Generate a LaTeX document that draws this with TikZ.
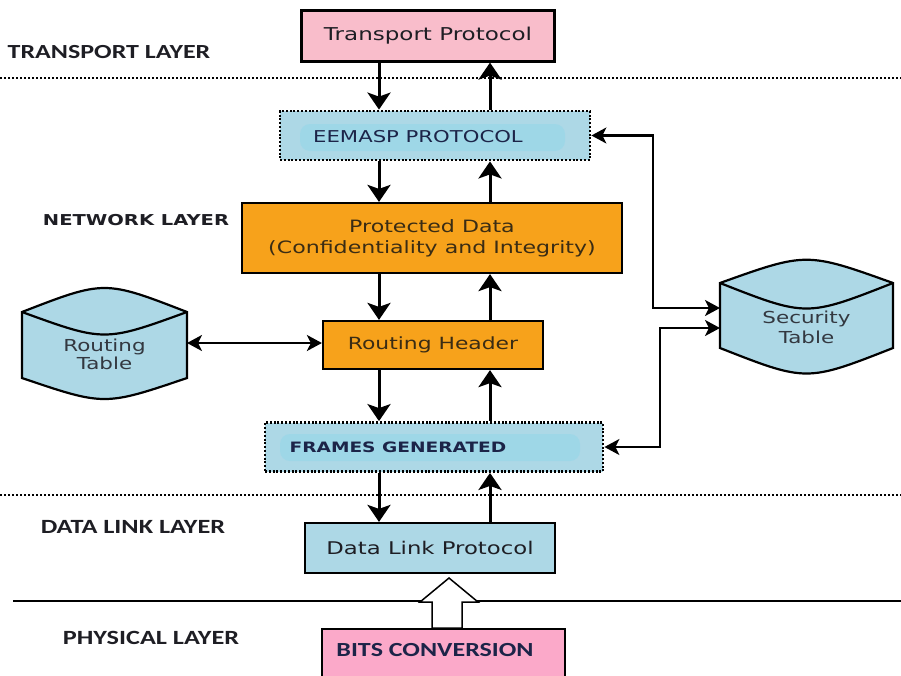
\documentclass[tikz,border=0pt]{standalone}
\usepackage{fontspec}
\setmainfont{DejaVu Sans}
\newfontfamily\vsans[FakeStretch=1.3]{DejaVu Sans}
\newfontfamily\csans[FakeStretch=1.3]{Carlito}
\usetikzlibrary{arrows.meta}

\definecolor{tpink}{HTML}{F9BDCB}
\definecolor{bpink}{HTML}{FBA9C9}
\definecolor{lblue}{HTML}{ADD8E6}
\definecolor{glow}{HTML}{8DD6EA}
\definecolor{orng}{HTML}{F7A21B}
\definecolor{ink}{HTML}{1E1E24}
\definecolor{navy}{HTML}{1C2448}
\definecolor{brown}{HTML}{3A2C14}
\definecolor{gray}{HTML}{333840}

\tikzset{
  solidbox/.style={draw=black, line width=2.2pt, inner sep=0pt},
  dotbox/.style={draw=black, line width=2.8pt, dash pattern=on 2pt off 1.8pt, inner sep=0pt, fill=lblue},
  sep/.style={line width=2.2pt, dash pattern=on 1.8pt off 2.2pt},
  txt/.style={inner sep=0pt, text=ink},
  flow/.style={line width=3pt, -{Stealth[length=17pt,width=23pt,inset=4pt]}},
  link/.style={line width=2.2pt, {Stealth[length=15pt,width=16pt,inset=4pt]}-{Stealth[length=15pt,width=16pt,inset=4pt]}},
  drum/.style={draw=black, line width=2.2pt, fill=lblue, line join=miter}
}

\begin{document}
\begin{tikzpicture}[x=1pt,y=-1pt]
\useasboundingbox (0,0) rectangle (901,675);
\clip (0,0) rectangle (901,675);

% column positions of the down and up flows
\coordinate (dx) at (379,0);
\coordinate (ux) at (490,0);

% layer separators
\draw[sep] (0,78) -- (901,78);
\draw[sep] (0,495) -- (901,495);
\draw[line width=1.5pt] (13,601) -- (901,601);

% layer names
\node[txt, font={\csans\bfseries\fontsize{20}{22}\selectfont}] (tl) at (109,52) {TRANSPORT LAYER};
\node[txt, font={\vsans\bfseries\fontsize{15}{17}\selectfont}] (nl) at (136,220) {NETWORK LAYER};
\node[txt, font={\csans\bfseries\fontsize{20.2}{22}\selectfont}] (dl) at (133,527) {DATA LINK LAYER};
\node[txt, font={\csans\bfseries\fontsize{20.2}{22}\selectfont}] (pl) at (151,638) {PHYSICAL LAYER};

% protocol stack
\node[solidbox, fill=tpink, minimum width=253pt, minimum height=51pt, text=ink,
      font={\vsans\fontsize{17.7}{19}\selectfont}] (tp) at (428,36) {Transport Protocol};

\node[dotbox, minimum width=310pt, minimum height=49pt] (ee) at (435,135.5) {};
\fill[glow, rounded corners=10pt, opacity=0.45] (300,124) rectangle (565,151);
\node[txt, text=navy, font={\vsans\fontsize{16.3}{18}\selectfont}] (eet) at (418,137) {EEMASP PROTOCOL};

\node[solidbox, fill=orng, minimum width=380pt, minimum height=70pt, align=center, text=brown,
      font={\vsans\fontsize{17}{21}\selectfont}] (pd) at (432,238)
  {Protected Data\\(Confidentiality and Integrity)};

\node[solidbox, fill=orng, minimum width=220pt, minimum height=48pt, text=brown,
      font={\vsans\fontsize{16.8}{18}\selectfont}] (rh) at (433,345) {Routing Header};

\node[dotbox, minimum width=338pt, minimum height=49pt] (fr) at (434,447) {};
\fill[glow, rounded corners=10pt, opacity=0.45] (280,434) rectangle (580,461);
\node[txt, text=navy, font={\vsans\bfseries\fontsize{14.3}{16}\selectfont}] (frt) at (398,447) {FRAMES GENERATED};

\node[solidbox, fill=lblue, minimum width=250pt, minimum height=50pt, text=ink,
      font={\vsans\fontsize{17.5}{19}\selectfont}] (dp) at (430,548) {Data Link Protocol};

% bits conversion block runs past the lower edge
\draw[line width=2pt, fill=bpink] (322,629) rectangle (565,690);
\node[txt, text=navy, font={\csans\bfseries\fontsize{20}{22}\selectfont}] (bc) at (435,650) {BITS CONVERSION};

% hollow arrow from the physical layer
\draw[line width=1.5pt, fill=white, line join=miter]
  (432,628) -- (432,602) -- (420,602) -- (449,578) -- (478,602) -- (462,602) -- (462,628) -- cycle;

% routing table drum
\draw[drum] (22,312) .. controls (104.5,280) .. (187,312) -- (187,378)
  .. controls (104.5,406) .. (22,378) -- cycle;
\draw[line width=2.2pt] (22,312) .. controls (104.5,342) .. (187,312);
\node[txt, text=gray, align=center, font={\vsans\fontsize{16.5}{18}\selectfont}] (rt) at (104.5,354)
  {Routing\\Table};
\coordinate (rtR) at (187,343);

% security table drum
\draw[drum] (720,283) .. controls (806.5,252) .. (893,283) -- (893,348)
  .. controls (806.5,382) .. (720,348) -- cycle;
\draw[line width=2.2pt] (720,283) .. controls (806.5,317) .. (893,283);
\node[txt, text=gray, align=center, font={\vsans\fontsize{16.5}{20}\selectfont}] (st) at (806.5,327)
  {Security\\Table};
\coordinate (s1) at (720,308);
\coordinate (s2) at (720,328);
\coordinate (k1) at (653,308);
\coordinate (k2) at (660,328);

% vertical flows
\draw[flow] (tp.south -| dx) -- (ee.north -| dx);
\draw[flow] (ee.north -| ux) -- (tp.south -| ux);
\draw[flow] (ee.south -| dx) -- (pd.north -| dx);
\draw[flow] (pd.north -| ux) -- (ee.south -| ux);
\draw[flow] (pd.south -| dx) -- (rh.north -| dx);
\draw[flow] (rh.north -| ux) -- (pd.south -| ux);
\draw[flow] (rh.south -| dx) -- (fr.north -| dx);
\draw[flow] (fr.north -| ux) -- (rh.south -| ux);
\draw[flow] (fr.south -| dx) -- (dp.north -| dx);
\draw[flow] (dp.north -| ux) -- (fr.south -| ux);

% table lookups
\draw[link] (rtR) -- (rh.west |- rtR);
\draw[link] (ee.east) -| (k1) -- (s1);
\draw[link] (fr.east) -| (k2) -- (s2);
\end{tikzpicture}
\end{document}
